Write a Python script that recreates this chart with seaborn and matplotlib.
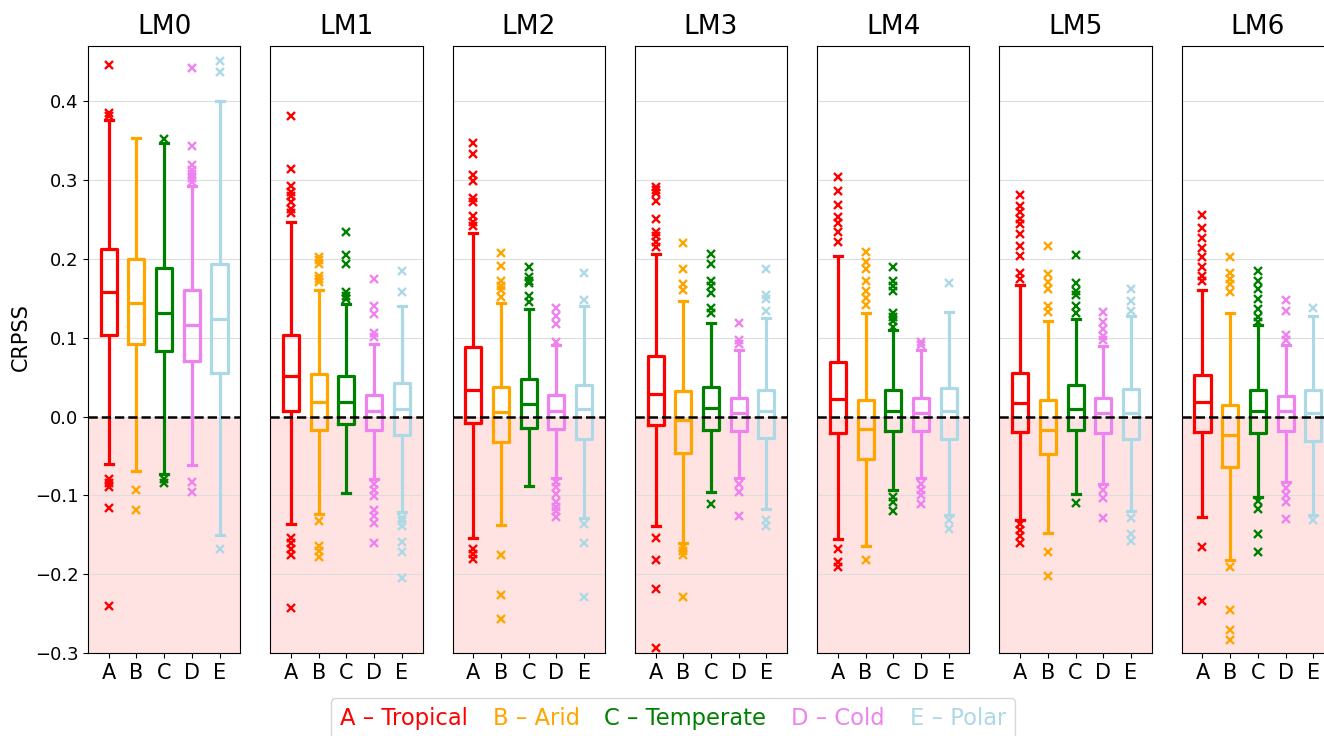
import pandas as pd
import seaborn as sns
import matplotlib.pyplot as plt
from matplotlib.patches import Patch

models = ['LM0', 'LM1', 'LM2', 'LM3', 'LM4', 'LM5', 'LM6']
classes = ['A', 'B', 'C', 'D', 'E']
class_names = ['Tropical', 'Arid', 'Temperate', 'Cold', 'Polar']
colors = ['red', 'orange', 'green', 'violet', 'lightblue']

# box statistics: one row per model, one column per climate class
q1 = [[0.1035, 0.0915, 0.083, 0.07, 0.055],
      [0.0065, -0.0175, -0.0095, -0.017, -0.0235],
      [-0.0085, -0.0325, -0.0145, -0.016, -0.0285],
      [-0.011, -0.046, -0.017, -0.0185, -0.027],
      [-0.021, -0.0535, -0.0185, -0.0185, -0.0285],
      [-0.0195, -0.047, -0.017, -0.021, -0.0285],
      [-0.02, -0.0645, -0.021, -0.0185, -0.031]]
med = [[0.1575, 0.1445, 0.1315, 0.1155, 0.124],
       [0.0515, 0.018, 0.019, 0.0065, 0.009],
       [0.034, 0.0055, 0.0155, 0.0065, 0.009],
       [0.028, -0.0045, 0.0105, 0.004, 0.0065],
       [0.0225, -0.016, 0.0065, 0.004, 0.0065],
       [0.0165, -0.017, 0.009, 0.004, 0.004],
       [0.018, -0.0235, 0.0075, 0.0065, 0.004]]
q3 = [[0.213, 0.2, 0.1885, 0.16, 0.194],
      [0.1035, 0.054, 0.0515, 0.0275, 0.0425],
      [0.0885, 0.038, 0.0475, 0.0275, 0.0405],
      [0.0765, 0.0325, 0.038, 0.023, 0.034],
      [0.069, 0.0205, 0.033, 0.024, 0.0365],
      [0.055, 0.0205, 0.04, 0.023, 0.0355],
      [0.053, 0.014, 0.034, 0.0265, 0.034]]
whis_lo = [[-0.060, -0.0685, -0.0735, -0.062, -0.15],
           [-0.136, -0.1235, -0.097, -0.0795, -0.121],
           [-0.1545, -0.1375, -0.0885, -0.0775, -0.1285],
           [-0.1395, -0.161, -0.096, -0.0785, -0.1175],
           [-0.156, -0.1645, -0.0935, -0.0785, -0.125],
           [-0.131, -0.1475, -0.0985, -0.086, -0.1195],
           [-0.1275, -0.1825, -0.1025, -0.0825, -0.1245]]
whis_hi = [[0.3765, 0.353, 0.349, 0.2925, 0.4],
           [0.2465, 0.1605, 0.144, 0.0915, 0.1405],
           [0.233, 0.144, 0.1365, 0.0905, 0.1405],
           [0.2065, 0.1465, 0.118, 0.084, 0.125],
           [0.204, 0.1315, 0.1105, 0.084, 0.1325],
           [0.1665, 0.1225, 0.124, 0.09, 0.128],
           [0.16, 0.1325, 0.1165, 0.0905, 0.1275]]
fliers_lo = [
    [[-0.0795, -0.0845, -0.09, -0.116, -0.241], [-0.0935, -0.1185], [-0.0795, -0.0845],
     [-0.0835, -0.096], [-0.1675]],
    [[-0.1545, -0.161, -0.1685, -0.176, -0.2435], [-0.1325, -0.1645, -0.171, -0.1785], [],
     [-0.086, -0.093, -0.101, -0.1185, -0.126, -0.1345, -0.161],
     [-0.1285, -0.133, -0.1385, -0.1595, -0.172, -0.2045]],
    [[-0.1685, -0.1745, -0.181], [-0.176, -0.226, -0.2575], [],
     [-0.0835, -0.09, -0.0985, -0.1085, -0.115, -0.12, -0.127], [-0.136, -0.161, -0.2285]],
    [[-0.1545, -0.182, -0.2185, -0.2935], [-0.166, -0.171, -0.176, -0.2295], [-0.111],
     [-0.086, -0.096, -0.126], [-0.131, -0.1385]],
    [[-0.1685, -0.1845, -0.191], [-0.182], [-0.1025, -0.1085, -0.1195],
     [-0.086, -0.093, -0.1, -0.111], [-0.131, -0.1425]],
    [[-0.136, -0.1435, -0.151, -0.161], [-0.1725, -0.2025], [-0.1095],
     [-0.0935, -0.1035, -0.1285], [-0.1285, -0.1485, -0.1585]],
    [[-0.165, -0.2335], [-0.191, -0.245, -0.271, -0.2835], [-0.1075, -0.1175, -0.1485, -0.1725],
     [-0.091, -0.1, -0.1085, -0.1295], [-0.131]],
]
fliers_hi = [
    [[0.4465, 0.385, 0.3815], [], [0.3525], [0.4415, 0.3435, 0.319, 0.313, 0.307, 0.303, 0.298],
     [0.4505, 0.4375]],
    [[0.3815, 0.314, 0.2925, 0.285, 0.28, 0.272, 0.263, 0.258],
     [0.2025, 0.198, 0.194, 0.178, 0.174, 0.17], [0.2345, 0.205, 0.1935, 0.1575, 0.153, 0.149],
     [0.175, 0.1405, 0.1305, 0.1055, 0.1005], [0.185, 0.158]],
    [[0.3475, 0.333, 0.3065, 0.299, 0.2775, 0.2725, 0.254, 0.2465, 0.2415],
     [0.2075, 0.1905, 0.1715, 0.165, 0.16, 0.152], [0.19, 0.1775, 0.172, 0.169, 0.1525, 0.1455],
     [0.138, 0.1275, 0.1175, 0.095], [0.1825, 0.148]],
    [[0.2915, 0.2875, 0.283, 0.274, 0.25, 0.234, 0.229, 0.222, 0.215],
     [0.2205, 0.1865, 0.1675, 0.1605], [0.2065, 0.193, 0.1715, 0.165, 0.1565, 0.1375, 0.1315],
     [0.118, 0.0975, 0.0925], [0.1865, 0.154, 0.149, 0.134]],
    [[0.304, 0.2855, 0.268, 0.253, 0.245, 0.234, 0.2215],
     [0.209, 0.1955, 0.1865, 0.1725, 0.159, 0.1505, 0.1415],
     [0.19, 0.1725, 0.1655, 0.159, 0.1315, 0.1265, 0.121, 0.114], [0.095, 0.0905], [0.169]],
    [[0.2815, 0.2665, 0.259, 0.25, 0.244, 0.2315, 0.2165, 0.204, 0.1815, 0.174],
     [0.2165, 0.1805, 0.171, 0.1615, 0.1405, 0.1325], [0.2055, 0.169, 0.159, 0.154, 0.1405, 0.1315],
     [0.133, 0.1205, 0.1115, 0.1015, 0.0965], [0.1615, 0.1465, 0.134]],
    [[0.255, 0.239, 0.2265, 0.214, 0.2025, 0.19, 0.178, 0.1715],
     [0.2025, 0.1815, 0.175, 0.168, 0.158], [0.184, 0.1715, 0.1615, 0.149, 0.1365, 0.1265, 0.1205],
     [0.1475, 0.134, 0.104, 0.0975], [0.138]],
]


def box_sample(lo_out, wlo, b1, md, b3, whi, hi_out):
    # rebuild a sample whose quartiles / whiskers / fliers match the read stats
    iqr = b3 - b1
    whi = min(whi, b3 + 1.5 * iqr - 1e-4)
    wlo = max(wlo, b1 - 1.5 * iqr + 1e-4)
    L, H = len(lo_out), len(hi_out)
    m = 2 * max(L, H) + 4
    return (list(lo_out) + [wlo] + [b1] * (m - 1 - L) + [md]
            + [b3] * (m - 1 - H) + [whi] + list(hi_out))


rows = []
for i, lm in enumerate(models):
    for j, c in enumerate(classes):
        vals = box_sample(fliers_lo[i][j], whis_lo[i][j], q1[i][j], med[i][j],
                          q3[i][j], whis_hi[i][j], fliers_hi[i][j])
        for v in vals:
            rows.append({'model': lm, 'cls': c, 'CRPSS': v})
df = pd.DataFrame(rows)

fig, axes = plt.subplots(1, 7, sharey=True, figsize=(13.24, 7.36), dpi=100)
fig.subplots_adjust(left=88 / 1324, right=1334 / 1324, top=1 - 46 / 736,
                    bottom=1 - 653 / 736, wspace=0.197)

for i, (ax, lm) in enumerate(zip(axes, models)):
    sub = df[df['model'] == lm]
    ax.axhspan(-0.3, 0, color='red', alpha=0.11, lw=0, zorder=0)
    sns.boxplot(data=sub, x='cls', y='CRPSS', hue='cls', order=classes, hue_order=classes,
                palette=colors, fill=False, linewidth=2.3, width=0.58, legend=False,
                flierprops=dict(marker='x', markersize=5.5, markeredgewidth=1.7), ax=ax)
    ax.axhline(0, color='black', linestyle='--', linewidth=1.8, zorder=3)
    ax.set_ylim(-0.3, 0.47)
    ax.set_xlim(-0.75, 4.75)
    ax.set_yticks([-0.3, -0.2, -0.1, 0.0, 0.1, 0.2, 0.3, 0.4])
    ax.yaxis.grid(True, color='#dddddd', linewidth=0.8)
    ax.set_axisbelow(True)
    ax.set_title(lm, fontsize=19, pad=9)
    ax.set_xlabel('')
    ax.tick_params(axis='x', labelsize=15)
    ax.tick_params(axis='y', labelsize=13)
    if i == 0:
        ax.set_ylabel('CRPSS', fontsize=15)
        ax.yaxis.set_label_coords(-0.375, 0.52)
    else:
        ax.set_ylabel('')
        ax.tick_params(axis='y', left=False, labelleft=False)

handles = [Patch(visible=False) for _ in classes]
labels = [f'{c} – {n}' for c, n in zip(classes, class_names)]
leg = fig.legend(handles, labels, loc='upper center', bbox_to_anchor=(673 / 1324, 1 - 698 / 736),
                 borderaxespad=0, ncol=5, handlelength=0, handletextpad=0, columnspacing=1.1,
                 fontsize=16.3)
for t, c in zip(leg.get_texts(), colors):
    t.set_color(c)

plt.savefig('out.png', dpi=100)
